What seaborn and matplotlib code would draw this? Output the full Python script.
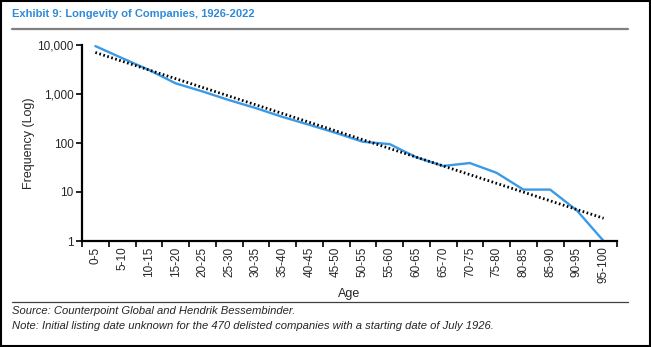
import numpy as np
import pandas as pd
import matplotlib
matplotlib.use("Agg")
import matplotlib.pyplot as plt
from matplotlib.patches import Rectangle
from matplotlib.lines import Line2D
import seaborn as sns

# Age buckets (years listed) and number of companies in each
age_buckets = ["0-5", "5-10", "10-15", "15-20", "20-25", "25-30", "30-35", "35-40",
               "40-45", "45-50", "50-55", "55-60", "60-65", "65-70", "70-75", "75-80",
               "80-85", "85-90", "90-95", "95-100"]
frequency = [9500, 5400, 3100, 1650, 1130, 750, 515, 340, 235, 160,
             106, 95, 51, 34, 39, 24.6, 11.2, 11.2, 4.2, 1]
y_ticks = [1, 10, 100, 1000, 10000]
y_tick_labels = ["1", "10", "100", "1,000", "10,000"]

title = "Exhibit 9: Longevity of Companies, 1926-2022"
source = "Source: Counterpoint Global and Hendrik Bessembinder."
note = "Note: Initial listing date unknown for the 470 delisted companies with a starting date of July 1926."

sns.set_theme(style="white")
plt.rcParams["font.family"] = ["Liberation Sans", "DejaVu Sans"]

df = pd.DataFrame({"pos": np.arange(len(age_buckets)), "age": age_buckets, "freq": frequency})

# Exponential trend line: least squares on log10 of the counts
slope, intercept = np.polyfit(df["pos"], np.log10(df["freq"]), 1)
df["trend"] = 10 ** (intercept + slope * df["pos"])

W, H = 651, 347
fig = plt.figure(figsize=(W / 100, H / 100), dpi=100)
ax = fig.add_axes([82 / W, 1 - 241 / H, (617 - 82) / W, (241 - 45) / H])

blue = "#3b9ae6"
sns.lineplot(data=df, x="pos", y="trend", ax=ax, color="black", linewidth=2.0,
             linestyle=(0, (0.6, 0.9)), zorder=3)
sns.lineplot(data=df, x="pos", y="freq", ax=ax, color=blue, linewidth=1.7, zorder=2)

ax.set_yscale("log")
ax.set_ylim(1, 10000)
ax.set_xlim(-0.5, len(age_buckets) - 0.5)

ax.set_yticks(y_ticks)
ax.set_yticklabels(y_tick_labels)
ax.yaxis.set_minor_locator(matplotlib.ticker.NullLocator())

# Category labels centred on each bucket, tick marks on bucket boundaries
ax.set_xticks(np.arange(len(age_buckets)))
ax.set_xticklabels(age_buckets, rotation=90)
ax.set_xticks(np.arange(len(age_buckets) + 1) - 0.5, minor=True)
ax.tick_params(axis="x", which="major", length=0, labelsize=8.5, pad=4)
ax.tick_params(axis="x", which="minor", length=4, width=1.2, color="black", direction="out", bottom=True)
ax.tick_params(axis="y", which="major", length=4, width=1.2, color="black", direction="out",
               labelsize=8.5, pad=2, left=True)

for s in ["top", "right"]:
    ax.spines[s].set_visible(False)
for s in ["left", "bottom"]:
    ax.spines[s].set_color("black")
    ax.spines[s].set_linewidth(1.6)

ax.set_xlabel("Age", fontsize=9, labelpad=3)
ax.set_ylabel("Frequency (Log)", fontsize=9, labelpad=2)
ax.grid(False)

# Header, rules, footnotes and outer frame
fig.text(12 / W, 1 - 14 / H, title, fontsize=8.0, fontweight="bold", color="#2f8ad8",
         ha="left", va="center")
fig.add_artist(Line2D([12 / W, 628 / W], [1 - 29 / H, 1 - 29 / H], color="#7f7f7f", linewidth=1.6))
fig.add_artist(Line2D([12 / W, 628 / W], [1 - 302 / H, 1 - 302 / H], color="#404040", linewidth=0.9))
fig.text(12 / W, 1 - 311 / H, source, fontsize=8.15, fontstyle="italic", ha="left", va="center")
fig.text(12 / W, 1 - 326 / H, note, fontsize=8.15, fontstyle="italic", ha="left", va="center")
fig.add_artist(Rectangle((0.0015, 0.003), 0.997, 0.994, transform=fig.transFigure,
                         fill=False, edgecolor="black", linewidth=1.5))

fig.savefig("out.png", dpi=100)
